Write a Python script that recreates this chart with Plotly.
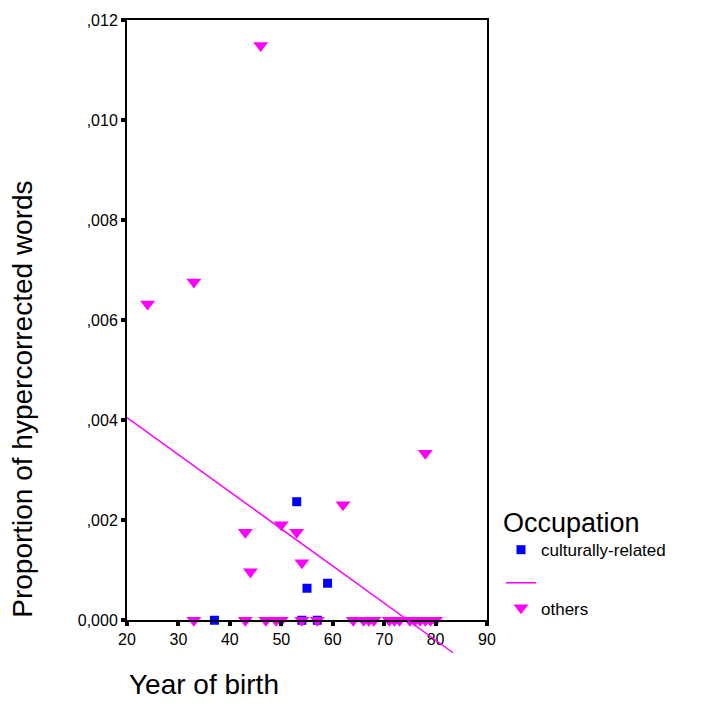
import plotly.graph_objects as go

# ---- data ----
cult_x = [37, 53, 54, 55, 57, 59]
cult_y = [0.0, 0.00237, 0.0, 0.00064, 0.0, 0.00074]

others_x = [24, 33, 46, 43, 44, 50, 53, 54, 62, 78,
            33, 43, 47, 49, 50, 54, 57, 64, 66, 67, 68, 71, 72, 73, 75, 76, 77, 78, 79, 80]
others_y = [0.00632, 0.00676, 0.01149, 0.00176, 0.00097, 0.00191, 0.00176, 0.00115, 0.00231, 0.00334,
            0, 0, 0, 0, 0, 0, 0, 0, 0, 0, 0, 0, 0, 0, 0, 0, 0, 0, 0, 0]

fit_x = [20, 83.4]
fit_y = [0.00405, -0.00065]

x_ticks = [20, 30, 40, 50, 60, 70, 80, 90]
y_ticks = [0, 0.002, 0.004, 0.006, 0.008, 0.010, 0.012]
y_ticktext = ["0,000", ",002", ",004", ",006", ",008", ",010", ",012"]

MAGENTA = "#FF00FF"
BLUE = "#0000FF"
FONT = "Liberation Sans, Arial, sans-serif"

# layout geometry
W, H = 705, 725
m_l, m_r, m_t, m_b = 127, 218, 16, 65
plot_w = W - m_l - m_r
plot_h = H - m_t - m_b
extra = 40  # px the fit line may run below the x axis
main_h = plot_h - extra
xmin, xmax = 20, 90
ymax = 0.012
y2_min = -ymax * extra / main_h

fig = go.Figure()
fig.add_trace(go.Scatter(
    x=fit_x, y=fit_y, mode="lines", name="", xaxis="x2", yaxis="y2",
    line=dict(color=MAGENTA, width=1.5), legendgroup="b", legendrank=2))
fig.add_trace(go.Scatter(
    x=cult_x, y=cult_y, mode="markers", name="culturally-related",
    marker=dict(symbol="square", size=9, color=BLUE),
    legendgroup="a", legendrank=1, cliponaxis=False))
fig.add_trace(go.Scatter(
    x=others_x, y=others_y, mode="markers", name="others",
    marker=dict(symbol="triangle-down", size=13, color=MAGENTA),
    legendgroup="b", legendrank=3, cliponaxis=False))

axis_common = dict(showgrid=False, zeroline=False, showline=True, linecolor="black",
                   linewidth=2, mirror=True, ticks="outside", ticklen=4, tickwidth=4,
                   tickcolor="black", tickfont=dict(family=FONT, size=16, color="black"))

fig.update_layout(
    width=W, height=H,
    margin=dict(l=m_l, r=m_r, t=m_t, b=m_b),
    paper_bgcolor="white", plot_bgcolor="rgba(0,0,0,0)",
    font=dict(family=FONT, color="black"),
    xaxis=dict(range=[xmin, xmax], tickvals=x_ticks, ticktext=[str(v) for v in x_ticks],
               anchor="y", **axis_common),
    yaxis=dict(range=[0, ymax], domain=[extra / plot_h, 1], tickvals=y_ticks,
               ticktext=y_ticktext, anchor="x", **axis_common),
    xaxis2=dict(range=[xmin, xmax], domain=[0, 1], anchor="y2", visible=False),
    yaxis2=dict(range=[y2_min, ymax], domain=[0, 1], anchor="x2", visible=False),
    showlegend=True,
    legend=dict(x=(501 - m_l) / plot_w, xanchor="left",
                y=(H - m_b - 496) / plot_h, yanchor="top",
                title=dict(text="Occupation", font=dict(family=FONT, size=27)),
                font=dict(family=FONT, size=17), tracegroupgap=8,
                bgcolor="rgba(0,0,0,0)"),
    annotations=[
        dict(text="Year of birth", xref="paper", yref="paper", x=0, y=-25 / plot_h,
             xanchor="left", yanchor="middle", showarrow=False,
             font=dict(family=FONT, size=28)),
        dict(text="Proportion of hypercorrected words", xref="paper", yref="y domain",
             x=(23 - m_l) / plot_w, y=0, xanchor="center", yanchor="bottom",
             textangle=-90, showarrow=False, font=dict(family=FONT, size=28)),
    ],
)

fig.write_html("out.html")
